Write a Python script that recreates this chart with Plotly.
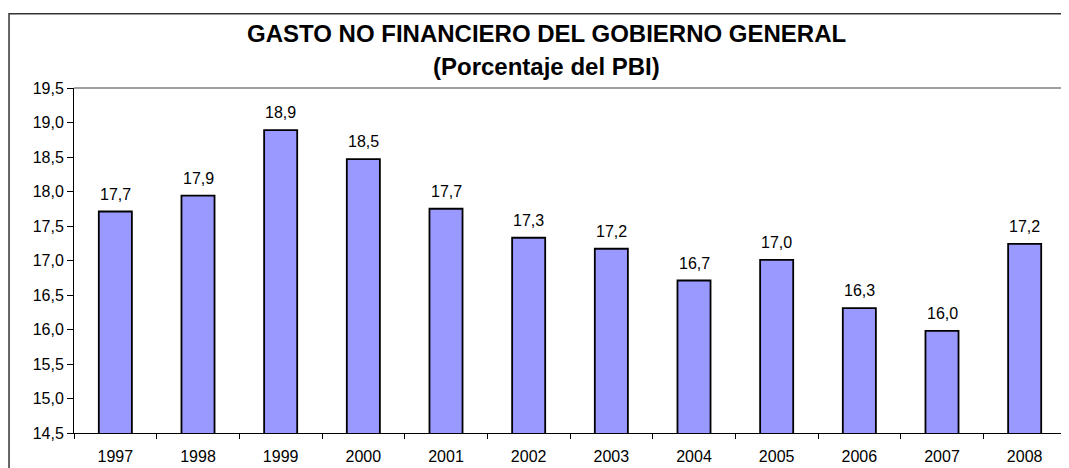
import plotly.graph_objects as go

years = ["1997", "1998", "1999", "2000", "2001", "2002", "2003", "2004", "2005", "2006", "2007", "2008"]
values = [17.71, 17.94, 18.89, 18.47, 17.75, 17.33, 17.17, 16.71, 17.01, 16.31, 15.98, 17.24]
labels = ["17,7", "17,9", "18,9", "18,5", "17,7", "17,3", "17,2", "16,7", "17,0", "16,3", "16,0", "17,2"]
y_ticks = [14.5, 15.0, 15.5, 16.0, 16.5, 17.0, 17.5, 18.0, 18.5, 19.0, 19.5]

FONT = "Arial, Liberation Sans"

fig = go.Figure()
fig.add_trace(go.Bar(
    x=years, y=values,
    marker=dict(color="#9999FF", line=dict(color="black", width=1.8)),
))

annotations = [
    dict(x=i, y=v, text=t, xref="x", yref="y", showarrow=False,
         xanchor="center", yanchor="bottom", yshift=7,
         font=dict(family=FONT, size=16, color="black"))
    for i, (v, t) in enumerate(zip(values, labels))
]
annotations += [
    dict(text="<b>GASTO NO FINANCIERO DEL GOBIERNO GENERAL</b>", xref="paper", yref="paper",
         x=0.476, y=(436 - 33) / 348, xanchor="center", yanchor="middle", showarrow=False,
         font=dict(size=24, family=FONT, color="black")),
    dict(text="<b>(Porcentaje del PBI)</b>", xref="paper", yref="paper",
         x=0.476, y=(436 - 66) / 348, xanchor="center", yanchor="middle", showarrow=False,
         font=dict(size=24, family=FONT, color="black")),
]

fig.update_layout(
    width=1061, height=460,
    margin=dict(l=66, r=3, t=80, b=30),
    paper_bgcolor="white", plot_bgcolor="white",
    separators=",.",
    bargap=0.6,
    showlegend=False,
    font=dict(family=FONT, size=16, color="black"),
    xaxis=dict(
        type="category", categoryorder="array", categoryarray=years,
        range=[-0.5, len(years) - 0.5],
        showline=True, linecolor="black", linewidth=1,
        ticks="outside", tickson="boundaries", ticklen=5, tickcolor="black",
        ticklabelstandoff=9,
        showgrid=False, tickfont=dict(size=16),
    ),
    yaxis=dict(
        range=[14.5, 19.5], tickvals=y_ticks, tickformat=".1f",
        showline=True, linecolor="black", linewidth=1,
        ticks="outside", ticklen=6, tickcolor="black",
        showgrid=False, zeroline=False, tickfont=dict(size=16),
    ),
    shapes=[
        dict(type="line", xref="paper", yref="paper", x0=0, x1=1, y0=1, y1=1,
             line=dict(color="#808080", width=1.5)),
        dict(type="line", xref="paper", yref="paper", x0=1, x1=1, y0=0, y1=1,
             line=dict(color="#808080", width=1.5)),
        dict(type="rect", xref="paper", yref="paper", x0=-0.0655, x1=1.1, y0=-0.2, y1=1.2155,
             line=dict(color="#333333", width=1.5), layer="below"),
    ],
    annotations=annotations,
)

fig.write_html("out.html")
